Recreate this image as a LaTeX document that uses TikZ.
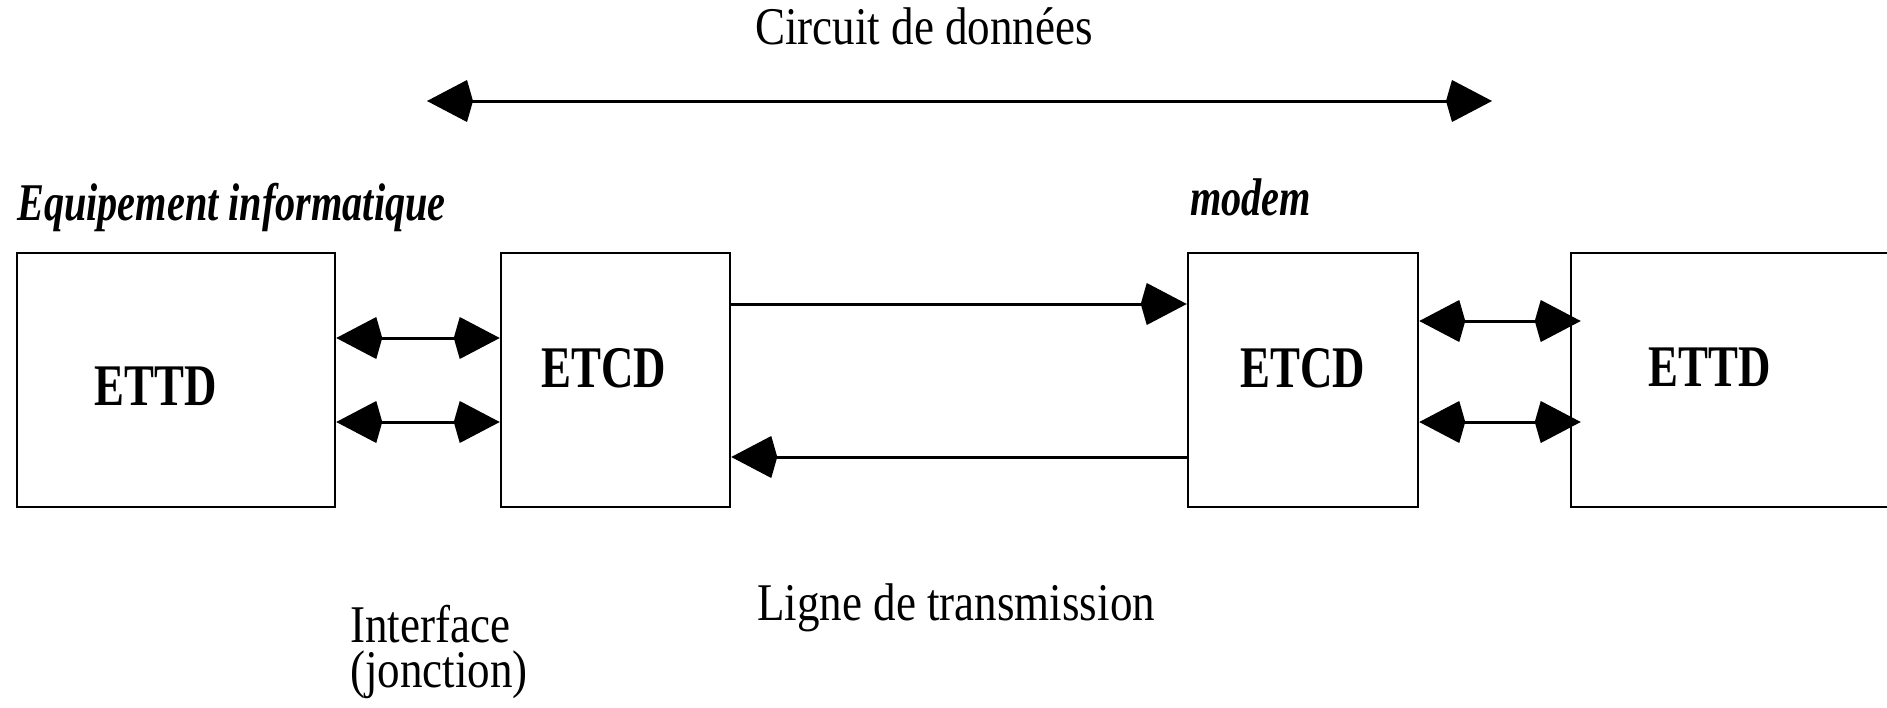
\documentclass[tikz,border=0pt]{standalone}
\usepackage{fontspec}
\setmainfont{Liberation Serif}[FakeStretch=0.85]
\newfontfamily\narrowserif{Liberation Serif}[FakeStretch=0.76]
\usetikzlibrary{arrows.meta,calc}
\tikzset{
    % Boxes and connectors
    unitbox/.style={
        rectangle, draw=black, line width=2.5pt, fill=white,
        inner sep=0pt, minimum height=254pt
    },
    boxlabel/.style={
        inner sep=0pt, font=\narrowserif\bfseries\fontsize{59}{59}\selectfont
    },
    link/.style={
        line width=3pt, >={Kite[length=46pt,width=42pt,inset=6pt]}
    },
    caption/.style={
        inner sep=0pt, font=\fontsize{53}{45}\selectfont
    },
    heading/.style={
        inner sep=0pt, font=\narrowserif\bfseries\itshape\fontsize{53}{53}\selectfont
    }
}
\begin{document}
\begin{tikzpicture}[x=1pt,y=-1pt]
\useasboundingbox (0,0) rectangle (1887,707);

% Equipments
\node[unitbox, minimum width=318pt,
      label={[boxlabel, xshift=-20pt, yshift=-6pt]center:ETTD}] (ettdA) at (176,380) {};
\node[unitbox, minimum width=229pt,
      label={[boxlabel, xshift=-12pt, yshift=12pt]center:ETCD}] (etcdA) at (615.5,380) {};
\node[unitbox, minimum width=230pt,
      label={[boxlabel, yshift=12pt]center:ETCD}] (etcdB) at (1303,380) {};
\node[unitbox, minimum width=329pt,
      label={[boxlabel, xshift=-26pt, yshift=13pt]center:ETTD}] (ettdB) at (1735.5,380) {};

% Headings
\node[heading, anchor=base west] (equip) at (17,220) {Equipement informatique};
\node[heading, anchor=base west] (modem) at (1190,215) {modem};

% Data circuit
\coordinate (circL) at (427,101);
\coordinate (circR) at (1492,101);
\draw[link, <->] (circL) -- (circR);
\node[caption, anchor=base west] (circuit) at (755,44) {Circuit de donn\'ees};

% Interface (jonction)
\draw[link, <->] ($(ettdA.east)+(0,-42)$) -- ($(etcdA.west)+(0,-42)$);
\draw[link, <->] ($(ettdA.east)+(0,42)$) -- ($(etcdA.west)+(0,42)$);
\draw[link, <->, shorten >=-11pt] ($(etcdB.east)+(0,-59)$) -- ($(ettdB.west)+(0,-59)$);
\draw[link, <->, shorten >=-11pt] ($(etcdB.east)+(0,42)$) -- ($(ettdB.west)+(0,42)$);

% Transmission line
\draw[link, ->] ($(etcdA.east)+(0,-76)$) -- ($(etcdB.west)+(0,-76)$);
\draw[link, ->] ($(etcdB.west)+(0,77)$) -- ($(etcdA.east)+(0,77)$);

% Captions
\node[caption, anchor=base west] (ligne) at (757,620) {Ligne de transmission};
\node[caption, anchor=base west, align=left] (interface) at (350,687) {Interface\\(jonction)};

\end{tikzpicture}
\end{document}
